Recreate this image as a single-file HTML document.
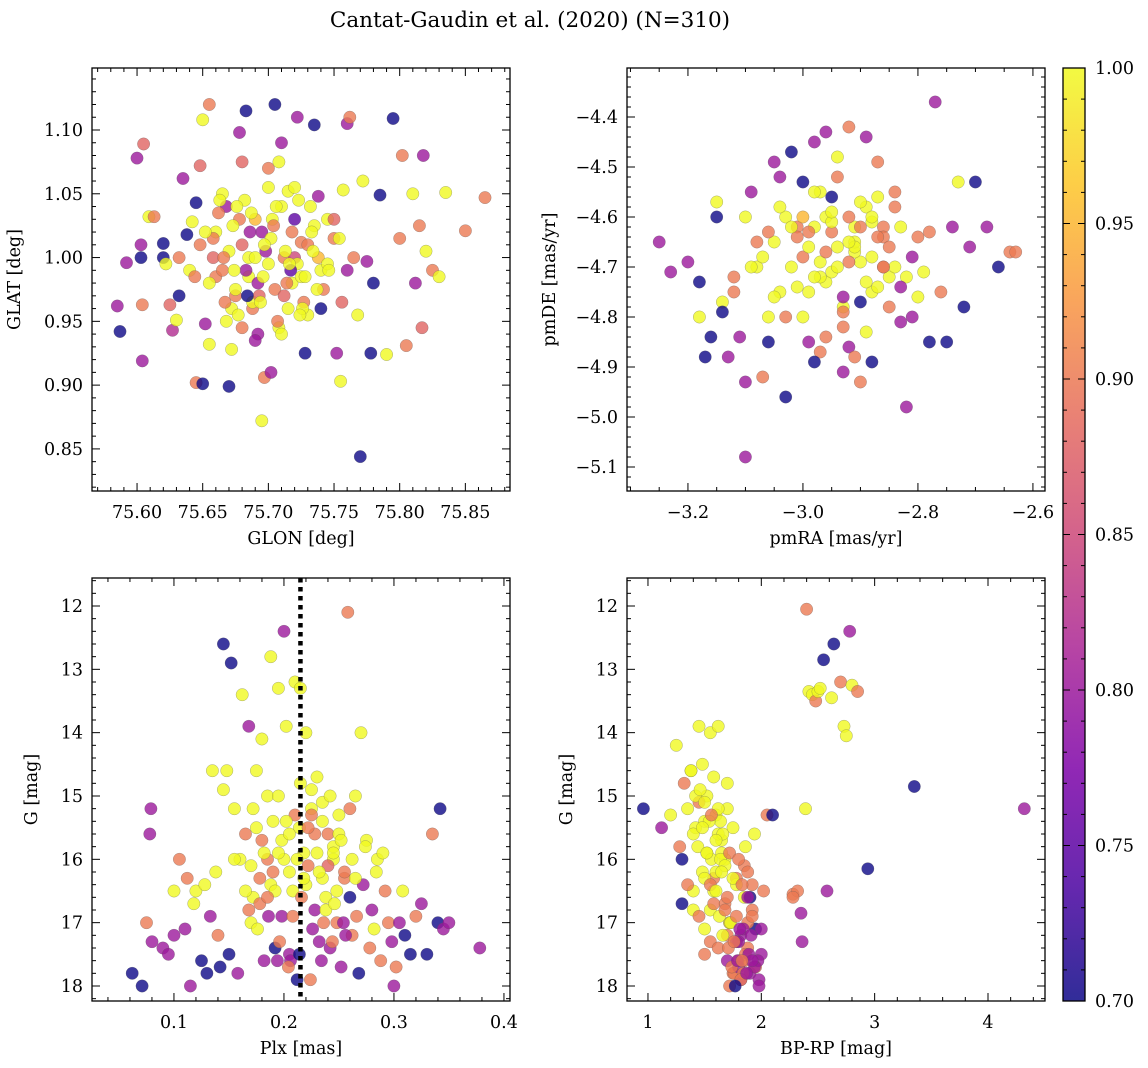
<!DOCTYPE html>
<html><head><meta charset="utf-8">
<style>
html,body{margin:0;padding:0;background:#fff;}
svg{display:block;font-family:"DejaVu Serif","Liberation Serif",serif;}
</style></head>
<body>
<svg id="fig" width="1148" height="1068" viewBox="0 0 1148 1068">
<defs>
<linearGradient id="plasma" x1="0" y1="1" x2="0" y2="0">
<stop offset="0" stop-color="#0d0887"/><stop offset="0.125" stop-color="#4c02a1"/>
<stop offset="0.25" stop-color="#7e03a8"/><stop offset="0.375" stop-color="#a92395"/>
<stop offset="0.5" stop-color="#cc4778"/><stop offset="0.625" stop-color="#e56b5d"/>
<stop offset="0.75" stop-color="#f89540"/><stop offset="0.875" stop-color="#fdc527"/>
<stop offset="1" stop-color="#f0f921"/></linearGradient>
</defs>
<text x="530" y="27" font-size="21.5" text-anchor="middle">Cantat-Gaudin et al. (2020) (N=310)</text>
</svg>
<script>
// ---------- data ----------
const p1GLON=[75.587,75.592,75.585,75.600,75.605,75.603,75.603,75.604,75.604,75.609,75.613,75.620,75.620,75.622,75.625,75.627,75.630,75.632,75.635,75.638,75.642,75.645,75.648,75.650,75.655,75.645,75.650,75.652,75.655,75.660,75.665,75.668,75.670,75.672,75.675,75.678,75.680,75.683,75.685,75.688,75.690,75.692,75.695,75.697,75.700,75.702,75.705,75.708,75.710,75.712,75.715,75.718,75.720,75.722,75.725,75.728,75.730,75.735,75.738,75.740,75.745,75.750,75.752,75.755,75.756,75.757,75.760,75.762,75.765,75.768,75.770,75.772,75.775,75.778,75.780,75.785,75.790,75.795,75.800,75.802,75.805,75.810,75.812,75.815,75.817,75.818,75.820,75.825,75.830,75.835,75.850,75.865,
75.660,75.665,75.670,75.675,75.680,75.685,75.690,75.695,75.700,75.705,75.710,75.715,75.720,75.725,75.730,75.735,75.740,75.662,75.672,75.682,75.692,75.702,75.712,75.722,75.732,75.742,75.668,75.678,75.688,75.698,75.708,75.718,75.728,75.738,75.648,75.655,75.658,75.745,75.750,75.760,75.640,75.632,
75.663,75.667,75.673,75.677,75.683,75.687,75.693,75.697,75.703,75.707,75.713,75.717,75.723,75.727,75.733,75.737,75.658,75.674,75.686,75.694,75.706,75.714,75.726,75.734,75.666,75.676,75.684,75.696,75.704,75.716,75.724,75.652,75.644,75.746,75.754,75.690,75.700,75.680,75.710,75.720];
const p1GLAT=[0.942,0.996,0.962,1.078,1.089,1.010,1.000,0.963,0.919,1.032,1.032,1.011,1.000,0.995,0.963,0.943,0.951,0.970,1.062,1.018,1.028,1.043,1.072,1.108,1.120,0.902,0.901,0.948,0.932,0.985,1.050,1.040,0.899,0.928,0.970,1.098,1.075,1.115,1.000,0.960,1.030,0.940,0.872,0.906,1.070,0.910,1.120,1.075,1.090,1.000,1.052,0.980,1.030,1.110,1.012,0.925,0.955,1.104,1.048,0.960,1.030,1.030,0.925,0.903,0.965,1.053,1.105,1.110,1.000,0.955,0.844,1.060,0.997,0.925,0.980,1.049,0.924,1.109,1.015,1.080,0.931,1.050,0.980,1.025,0.945,1.080,1.005,0.990,0.985,1.051,1.021,1.047,
1.020,0.990,1.005,0.975,1.010,0.985,1.000,1.020,0.995,0.975,1.040,0.960,1.000,0.985,1.010,1.025,0.990,1.035,0.960,1.045,0.980,1.015,0.970,0.995,1.040,0.975,0.950,1.030,0.965,1.005,0.945,1.020,0.985,1.000,1.010,0.980,1.000,0.995,1.015,0.990,0.990,1.000,
1.045,0.965,1.025,0.955,0.990,1.035,0.970,1.010,1.030,0.950,1.005,0.990,1.045,0.965,1.020,0.975,1.015,0.990,1.020,0.965,1.040,0.980,0.960,1.005,1.000,1.040,0.970,0.985,1.025,0.995,0.955,1.020,0.985,0.990,1.015,0.935,1.055,0.945,0.940,1.055];
const p1Prob=[0.7,0.8,0.8,0.8,0.88,0.8,0.7,0.9,0.8,1.0,0.9,0.7,0.7,1.0,0.88,0.82,1.0,0.7,0.8,0.7,1.0,0.7,0.88,1.0,0.9,0.9,0.7,0.8,1.0,0.9,1.0,0.8,0.7,1.0,0.9,0.8,0.88,0.7,1.0,0.9,0.95,0.8,1.0,0.9,0.9,0.8,0.7,1.0,0.8,0.9,1.0,1.0,0.75,0.8,0.9,0.7,1.0,0.7,0.8,0.7,1.0,0.88,0.8,1.0,0.88,1.0,0.8,0.9,0.9,1.0,0.7,1.0,0.8,0.7,0.7,0.7,1.0,0.7,0.9,0.9,0.9,1.0,0.8,0.9,0.88,0.8,1.0,0.9,1.0,1.0,0.9,0.9,
1.0,0.9,1.0,1.0,0.88,1.0,1.0,0.8,1.0,0.9,1.0,1.0,0.85,1.0,0.9,1.0,1.0,0.9,1.0,1.0,0.8,1.0,0.88,1.0,1.0,0.9,1.0,0.9,1.0,0.8,1.0,0.9,1.0,0.95,0.9,1.0,0.88,1.0,0.9,0.8,1.0,0.9,
1.0,0.9,1.0,1.0,0.8,1.0,0.88,1.0,1.0,0.9,1.0,0.75,1.0,0.9,1.0,1.0,0.9,1.0,0.8,1.0,1.0,0.9,1.0,1.0,0.9,1.0,0.7,1.0,0.9,1.0,1.0,1.0,0.9,1.0,1.0,0.8,1.0,0.9,1.0,1.0];

const p2pmRA=[-3.25,-3.23,-3.18,-3.17,-3.16,-3.15,-3.15,-3.13,-3.12,-3.10,-3.10,-3.09,-3.08,-3.06,-3.05,-3.04,-3.03,-3.02,-3.01,-3.00,-2.99,-2.98,-2.97,-2.96,-2.95,-2.94,-2.93,-2.92,-2.91,-2.90,-2.89,-2.88,-2.87,-2.86,-2.85,-2.84,-2.83,-2.82,-2.81,-2.80,-2.79,-2.78,-2.77,-2.76,-2.75,-2.74,-2.73,-2.72,-2.71,-2.70,-2.68,-2.66,-2.64,-2.63,-3.18,-3.14,-3.07,-3.11,-2.98,-2.96,
-3.05,-3.02,-3.00,-2.98,-2.96,-2.94,-2.92,-2.90,-2.88,-2.86,-2.84,-3.08,-3.04,-3.00,-2.97,-2.95,-2.93,-2.91,-2.89,-2.87,-2.85,-2.83,-3.06,-3.01,-2.99,-2.95,-2.92,-2.88,-2.84,-3.10,-3.03,-2.97,-2.93,-2.90,-2.86,-2.82,-2.80,-3.12,-2.94,-2.91,
-3.03,-3.01,-2.99,-2.97,-2.95,-2.93,-2.91,-2.89,-2.87,-3.07,-3.05,-2.98,-2.96,-2.94,-2.92,-2.90,-2.88,-2.86,-3.02,-3.00,-2.96,-2.92,-2.89,-2.85,-3.09,-3.06,-2.99,-2.95,-2.91,-2.87,-2.83,-3.04,-2.98,-2.93,-2.88,-3.14,-2.81,-2.78,-3.20,-2.90];
const p2pmDE=[-4.65,-4.71,-4.73,-4.88,-4.84,-4.60,-4.57,-4.88,-4.72,-5.08,-4.93,-4.55,-4.65,-4.85,-4.49,-4.52,-4.96,-4.47,-4.62,-4.53,-4.75,-4.45,-4.87,-4.43,-4.56,-4.52,-4.91,-4.42,-4.62,-4.62,-4.44,-4.89,-4.49,-4.62,-4.72,-4.55,-4.81,-4.98,-4.80,-4.64,-4.71,-4.85,-4.37,-4.75,-4.85,-4.62,-4.53,-4.78,-4.66,-4.53,-4.62,-4.70,-4.67,-4.67,-4.80,-4.77,-4.92,-4.84,-4.89,-4.60,
-4.65,-4.70,-4.68,-4.62,-4.73,-4.66,-4.60,-4.69,-4.75,-4.64,-4.70,-4.70,-4.75,-4.60,-4.72,-4.63,-4.78,-4.67,-4.58,-4.74,-4.66,-4.62,-4.80,-4.64,-4.66,-4.71,-4.69,-4.61,-4.58,-4.60,-4.80,-4.55,-4.82,-4.57,-4.70,-4.72,-4.76,-4.75,-4.48,-4.65,
-4.60,-4.74,-4.63,-4.69,-4.61,-4.76,-4.66,-4.73,-4.64,-4.68,-4.76,-4.72,-4.67,-4.70,-4.65,-4.77,-4.60,-4.70,-4.62,-4.80,-4.84,-4.86,-4.83,-4.78,-4.70,-4.63,-4.85,-4.59,-4.88,-4.56,-4.74,-4.58,-4.55,-4.79,-4.68,-4.79,-4.68,-4.63,-4.69,-4.93];
const p2Prob=[0.8,0.8,0.7,0.7,0.7,0.7,1.0,0.8,0.9,0.8,0.8,0.8,0.9,0.7,0.8,0.8,0.7,0.7,0.9,0.7,1.0,0.8,0.9,0.8,0.7,0.9,0.8,0.9,1.0,0.9,0.8,0.7,0.9,0.9,1.0,0.9,0.8,0.8,0.8,0.9,1.0,0.7,0.8,0.9,0.7,0.8,1.0,0.7,0.8,0.7,0.8,0.7,0.9,0.9,1.0,1.0,0.9,0.8,0.7,1.0,
1.0,1.0,0.9,1.0,1.0,1.0,0.9,1.0,1.0,0.9,1.0,1.0,1.0,0.95,1.0,0.9,1.0,1.0,1.0,1.0,0.9,1.0,1.0,0.9,1.0,1.0,0.9,1.0,0.9,1.0,0.9,1.0,0.9,1.0,0.9,1.0,1.0,0.9,1.0,1.0,
1.0,1.0,0.9,1.0,1.0,0.8,1.0,1.0,0.9,1.0,1.0,1.0,0.9,1.0,1.0,0.7,1.0,0.9,1.0,1.0,0.9,0.8,1.0,0.9,1.0,0.9,0.8,1.0,0.9,1.0,0.8,1.0,1.0,0.9,1.0,0.7,0.8,0.9,0.8,0.9];

const p3Plx=[0.062,0.071,0.075,0.078,0.080,0.079,0.090,0.095,0.100,0.100,0.105,0.110,0.112,0.115,0.118,0.120,0.125,0.128,0.130,0.133,0.135,0.138,0.140,0.142,0.145,0.148,0.150,0.152,0.155,0.158,0.160,0.162,0.165,0.168,0.170,0.172,0.175,0.178,0.180,0.182,0.185,0.188,0.190,0.192,0.195,0.198,0.200,0.202,0.205,0.208,0.210,0.212,0.214,0.218,0.220,0.222,0.225,0.228,0.230,0.232,0.235,0.238,0.240,0.242,0.245,0.248,0.250,0.252,0.255,0.258,0.260,0.262,0.265,0.268,0.270,0.272,0.275,0.278,0.280,0.282,0.285,0.288,0.290,0.292,0.295,0.298,0.300,0.302,0.305,0.308,0.310,0.315,0.320,0.325,0.330,0.335,0.340,0.342,0.345,0.350,0.378,
0.165,0.175,0.185,0.195,0.205,0.215,0.225,0.235,0.245,0.255,0.170,0.180,0.190,0.200,0.210,0.220,0.230,0.240,0.250,0.260,0.178,0.188,0.198,0.208,0.218,0.228,0.238,0.248,
0.172,0.182,0.192,0.202,0.212,0.222,0.232,0.242,0.252,0.262,0.168,0.186,0.196,0.206,0.216,0.226,0.236,0.246,0.256,0.266,0.176,0.194,0.204,0.214,0.224,0.234,0.244,0.254,0.274,0.284,0.155,0.145,0.215,0.225,0.205,0.235,0.195,0.245,0.185,0.265];
const p3G=[17.8,18.0,17.0,15.6,17.3,15.2,17.4,17.5,16.5,17.2,16.0,17.1,16.3,18.0,16.7,16.5,17.6,16.4,17.8,16.9,14.6,16.2,17.2,17.7,12.6,14.6,17.5,12.9,15.2,17.8,16.0,13.4,15.6,13.9,17.0,16.6,14.6,16.3,14.1,17.6,15.0,12.8,16.2,17.4,13.3,16.9,12.4,13.9,17.5,16.5,13.2,17.9,15.5,15.9,14.0,16.1,15.2,16.8,14.7,17.3,15.1,16.6,15.6,17.4,16.0,17.0,15.3,17.7,16.3,12.1,16.6,17.2,15.0,17.8,14.0,16.4,15.7,17.4,16.8,17.1,16.0,17.6,15.9,16.5,17.0,17.3,18.0,17.7,17.0,16.5,17.2,17.5,16.9,16.7,17.5,15.6,17.0,15.2,17.1,17.0,17.4,
16.5,15.5,16.0,15.0,16.2,14.8,15.3,16.3,15.8,16.2,16.1,15.7,15.4,16.0,15.3,16.4,15.9,16.1,15.6,15.2,16.7,16.4,15.7,16.9,16.3,15.6,16.8,16.5,
15.2,15.9,16.5,15.4,16.0,15.5,16.2,15.0,15.7,16.0,16.8,16.9,17.3,17.6,16.6,17.1,17.0,16.7,17.2,16.9,17.1,17.6,17.7,17.5,17.9,17.6,17.3,17.0,15.8,16.2,16.0,14.9,13.3,14.9,15.6,15.4,15.9,15.9,16.6,16.3];
const p3Prob=[0.7,0.7,0.9,0.8,0.8,0.8,0.8,0.8,1.0,0.8,0.9,0.8,0.9,0.8,1.0,1.0,0.7,1.0,0.7,0.8,1.0,1.0,0.9,0.7,0.7,1.0,0.7,0.7,1.0,0.8,1.0,1.0,0.9,0.8,1.0,1.0,1.0,0.9,1.0,0.8,1.0,1.0,0.9,0.7,1.0,0.8,0.8,1.0,0.8,1.0,1.0,0.7,1.0,1.0,1.0,0.9,1.0,0.8,1.0,0.8,1.0,1.0,0.9,0.8,1.0,0.9,1.0,0.8,0.9,0.9,0.7,0.9,1.0,0.7,1.0,0.8,1.0,0.9,0.8,1.0,1.0,0.9,1.0,0.9,0.9,0.8,0.8,0.9,0.8,1.0,0.7,0.7,0.9,0.8,0.7,0.9,0.7,0.7,0.8,0.8,0.8,
1.0,1.0,0.9,1.0,1.0,1.0,0.9,1.0,1.0,0.9,1.0,0.9,1.0,1.0,0.9,1.0,1.0,0.88,1.0,0.9,0.9,1.0,1.0,0.9,1.0,0.9,1.0,1.0,
1.0,1.0,1.0,1.0,1.0,0.9,1.0,1.0,1.0,1.0,0.9,0.8,0.9,0.8,0.9,0.8,0.9,1.0,0.8,0.9,1.0,0.8,0.9,0.7,0.9,0.8,0.9,0.8,1.0,1.0,1.0,1.0,1.0,1.0,1.0,1.0,1.0,1.0,0.9,1.0];

const p4BPRP=[0.96,1.12,1.20,1.25,1.28,1.30,1.32,1.35,1.38,1.40,1.42,1.45,1.48,1.50,1.52,1.55,1.58,1.60,1.62,1.65,1.68,1.70,1.72,1.75,1.78,1.80,1.82,1.85,1.88,1.90,1.92,1.95,1.98,2.00,2.05,2.10,1.30,1.35,1.40,1.45,1.50,1.55,1.60,1.65,1.70,1.75,1.80,1.85,1.88,1.90,1.95,2.00,1.45,1.52,1.58,1.62,1.68,1.72,1.78,1.82,1.86,1.92,1.97,2.02,1.50,1.56,1.64,1.70,1.76,1.84,1.92,1.98,1.40,1.48,1.55,1.62,1.70,1.78,1.85,1.72,1.80,1.88,1.94,
2.28,2.32,2.36,2.39,2.40,2.42,2.45,2.48,2.50,2.52,2.55,2.58,2.62,2.64,2.70,2.73,2.75,2.78,2.80,2.85,2.94,3.35,4.32,2.35,2.28,
1.38,1.42,1.46,1.50,1.54,1.58,1.62,1.66,1.44,1.48,1.52,1.56,1.60,1.64,1.68,1.72,1.50,1.55,1.60,1.65,1.70,1.75,1.80,1.58,1.63,1.68,1.73,1.78,1.83,1.88,1.66,1.71,1.76,1.81,1.86,1.91,1.74,1.79,1.84,1.89,1.94,1.82,1.87,1.92,1.77,1.83];
const p4G=[15.2,15.5,15.3,14.2,15.8,16.0,14.8,15.2,14.6,16.5,15.5,13.9,14.5,15.4,15.0,14.0,16.3,15.3,13.9,15.7,16.0,14.8,17.0,15.5,16.3,17.6,17.2,16.6,17.4,17.8,16.4,17.1,17.9,17.5,15.3,15.3,16.7,16.4,16.8,16.9,17.1,17.3,16.2,15.9,17.6,17.8,17.3,16.1,17.0,16.6,17.7,17.1,15.1,15.9,16.5,15.6,16.7,17.0,17.3,17.9,15.8,16.8,17.6,16.5,17.5,16.0,15.4,17.2,17.8,17.1,16.9,18.0,15.6,16.2,16.8,17.4,15.2,16.4,17.6,18.0,17.7,16.2,15.6,
16.55,16.5,17.3,15.2,12.05,13.35,13.4,13.5,13.35,13.3,12.85,16.5,13.45,12.6,13.2,13.9,14.05,12.4,13.25,13.35,16.15,14.85,15.2,16.85,16.6,
14.6,15.0,14.9,15.1,15.4,14.7,15.2,15.6,15.8,15.5,15.9,15.3,15.7,16.0,16.1,15.9,16.3,16.4,16.5,16.2,16.6,16.3,16.0,16.7,16.9,16.8,17.0,16.9,16.4,16.6,17.2,17.4,17.3,17.1,17.5,17.2,17.7,17.6,17.8,17.5,17.7,17.9,17.8,17.6,18.0,17.6];
const p4Prob=[0.7,0.8,1.0,1.0,0.9,0.7,0.9,1.0,1.0,1.0,1.0,1.0,1.0,1.0,1.0,1.0,0.9,1.0,1.0,1.0,1.0,1.0,0.8,1.0,0.9,0.9,0.8,1.0,0.9,0.8,0.9,0.7,0.8,0.8,0.9,0.7,0.7,0.9,1.0,0.9,1.0,0.9,1.0,1.0,0.8,0.9,0.8,0.9,0.9,0.7,0.9,0.8,0.9,1.0,1.0,1.0,0.9,1.0,0.8,0.8,1.0,0.9,0.8,0.9,0.9,1.0,1.0,0.9,0.9,0.8,0.9,0.8,1.0,1.0,1.0,0.9,1.0,1.0,0.9,0.9,0.8,0.9,1.0,
0.9,0.9,0.8,1.0,0.9,1.0,1.0,0.9,1.0,1.0,0.7,0.8,1.0,0.7,0.9,1.0,1.0,0.8,1.0,0.9,0.7,0.7,0.8,0.8,0.9,
1.0,1.0,1.0,1.0,1.0,1.0,1.0,1.0,1.0,1.0,1.0,0.9,1.0,1.0,1.0,0.9,1.0,0.9,1.0,1.0,0.9,1.0,0.9,0.9,1.0,0.9,1.0,0.9,0.9,0.8,1.0,0.9,0.9,0.8,0.9,0.8,0.9,0.8,0.9,0.8,0.8,0.9,0.8,0.8,0.7,0.9];

const plxCut=[0.215];

// ---------- helpers ----------
const NS='http://www.w3.org/2000/svg';
const svg=document.getElementById('fig');
function mk(tag,attrs,parent){const e=document.createElementNS(NS,tag);for(const k in attrs)e.setAttribute(k,attrs[k]);(parent||svg).appendChild(e);return e;}
const stops=[[13,8,135],[76,2,161],[126,3,168],[169,35,149],[204,71,120],[229,107,93],[248,149,64],[253,197,39],[240,249,33]];
function cmap(v){let t=(v-0.7)/0.3;t=Math.max(0,Math.min(1,t))*8;const i=Math.min(7,Math.floor(t)),f=t-i;const a=stops[i],b=stops[i+1];
return 'rgb('+a.map((c,j)=>Math.round(c+(b[j]-c)*f)).join(',')+')';}
function fmt(v,d){return (v<0?'\u2212':'')+Math.abs(v).toFixed(d);}
const FS=17.5;

function panel(o){
  const g=mk('g',{});
  
  
  const X=v=>o.x0+(v-o.xmin)/(o.xmax-o.xmin)*(o.x1-o.x0);
  const Y=o.invert?(v=>o.y0+(v-o.ymin)/(o.ymax-o.ymin)*(o.y1-o.y0)):(v=>o.y1-(v-o.ymin)/(o.ymax-o.ymin)*(o.y1-o.y0));
  const pts=mk('g',{},g);
  
  
  for(let i=0;i<o.xs.length;i++){
    const c=mk('circle',{cx:X(o.xs[i]).toFixed(1),cy:Y(o.ys[i]).toFixed(1),r:6.2,fill:cmap(o.cs[i]),'fill-opacity':0.8,stroke:'#555','stroke-width':0.4,'stroke-opacity':0.6},pts);
    
    
  }
  if(o.vline){o.vline.forEach(v=>{const l=mk('line',{x1:X(v),x2:X(v),y1:o.y0,y2:o.y1,stroke:'#000','stroke-width':4.5,'stroke-dasharray':'4.5,4.5'},g);
    });}
  const fr=mk('rect',{x:o.x0,y:o.y0,width:o.x1-o.x0,height:o.y1-o.y0,fill:'none',stroke:'#000','stroke-width':1.3},g);
  
  const tk=mk('g',{stroke:'#000','stroke-width':1},g);
  
  const e=1e-9;
  for(let v=Math.ceil(o.xmin/o.xminor-e)*o.xminor;v<=o.xmax+e;v+=o.xminor){
    const maj=Math.abs(v/o.xmajor-Math.round(v/o.xmajor))<1e-6, L=maj?8:4, x=X(v);
    mk('line',{x1:x,x2:x,y1:o.y1,y2:o.y1-L},tk);mk('line',{x1:x,x2:x,y1:o.y0,y2:o.y0+L},tk);
    if(maj){const t=mk('text',{x:x,y:o.y1+27,'font-size':FS,'text-anchor':'middle',stroke:'none'},g);t.textContent=fmt(Math.round(v/o.xmajor)*o.xmajor,o.xd);
      }
  }
  for(let v=Math.ceil(o.ymin/o.yminor-e)*o.yminor;v<=o.ymax+e;v+=o.yminor){
    const maj=Math.abs(v/o.ymajor-Math.round(v/o.ymajor))<1e-6, L=maj?8:4, y=Y(v);
    mk('line',{x1:o.x0,x2:o.x0+L,y1:y,y2:y},tk);mk('line',{x1:o.x1,x2:o.x1-L,y1:y,y2:y},tk);
    if(maj){const t=mk('text',{x:o.x0-9,y:y+6,'font-size':FS,'text-anchor':'end',stroke:'none'},g);t.textContent=fmt(Math.round(v/o.ymajor)*o.ymajor,o.yd);
      }
  }
  const xl=mk('text',{x:(o.x0+o.x1)/2,y:o.y1+53,'font-size':FS,'text-anchor':'middle'},g);xl.textContent=o.xlabel;
  
  const yx=o.x0-o.ylabOff, yc=(o.y0+o.y1)/2;
  const yl=mk('text',{x:yx,y:yc,'font-size':FS,'text-anchor':'middle',transform:'rotate(-90 '+yx+' '+yc+')'},g);yl.textContent=o.ylabel;
  
}

panel({name:'glon-glat-panel',x0:92,x1:510,y0:68,y1:491,xmin:75.5657,xmax:75.884,ymin:0.817,ymax:1.1486,xmajor:0.05,xminor:0.01,ymajor:0.05,yminor:0.01,xd:2,yd:2,
  xs:p1GLON,ys:p1GLAT,cs:p1Prob,xlabel:'GLON [deg]',ylabel:'GLAT [deg]',ylabOff:72});
panel({name:'proper-motion-panel',x0:627,x1:1045,y0:68,y1:491,xmin:-3.306,xmax:-2.579,ymin:-5.148,ymax:-4.302,xmajor:0.2,xminor:0.05,ymajor:0.1,yminor:0.02,xd:1,yd:1,
  xs:p2pmRA,ys:p2pmDE,cs:p2Prob,xlabel:'pmRA [mas/yr]',ylabel:'pmDE [mas/yr]',ylabOff:72});
panel({name:'parallax-g-panel',x0:92,x1:510,y0:578,y1:1001,xmin:0.0255,xmax:0.4055,ymin:11.558,ymax:18.237,invert:true,xmajor:0.1,xminor:0.02,ymajor:1,yminor:0.2,xd:1,yd:0,
  xs:p3Plx,ys:p3G,cs:p3Prob,xlabel:'Plx [mas]',ylabel:'G [mag]',ylabOff:55,vline:plxCut});
panel({name:'cmd-panel',x0:627,x1:1045,y0:578,y1:1001,xmin:0.815,xmax:4.503,ymin:11.558,ymax:18.237,invert:true,xmajor:1,xminor:0.2,ymajor:1,yminor:0.2,xd:0,yd:0,
  xs:p4BPRP,ys:p4G,cs:p4Prob,xlabel:'BP-RP [mag]',ylabel:'G [mag]',ylabOff:55});

// colorbar
const cb=mk('g',{});


const cbr=mk('rect',{x:1063,y:68,width:22,height:933,fill:'url(#plasma)','fill-opacity':0.85,stroke:'#000','stroke-width':1.3},cb);

const CY=v=>1001-(v-0.7)/0.3*933;
for(let k=0;k<=30;k++){const v=0.7+k*0.01,maj=k%5===0,y=CY(v);
  mk('line',{x1:1085,x2:1085-(maj?7:4),y1:y,y2:y,stroke:'#000','stroke-width':1},cb);
  mk('line',{x1:1063,x2:1063+(maj?7:4),y1:y,y2:y,stroke:'#000','stroke-width':1},cb);
  if(maj){const t=mk('text',{x:1095,y:y+6,'font-size':FS},cb);t.textContent=v.toFixed(2);
    }}
</script>
</body></html>
